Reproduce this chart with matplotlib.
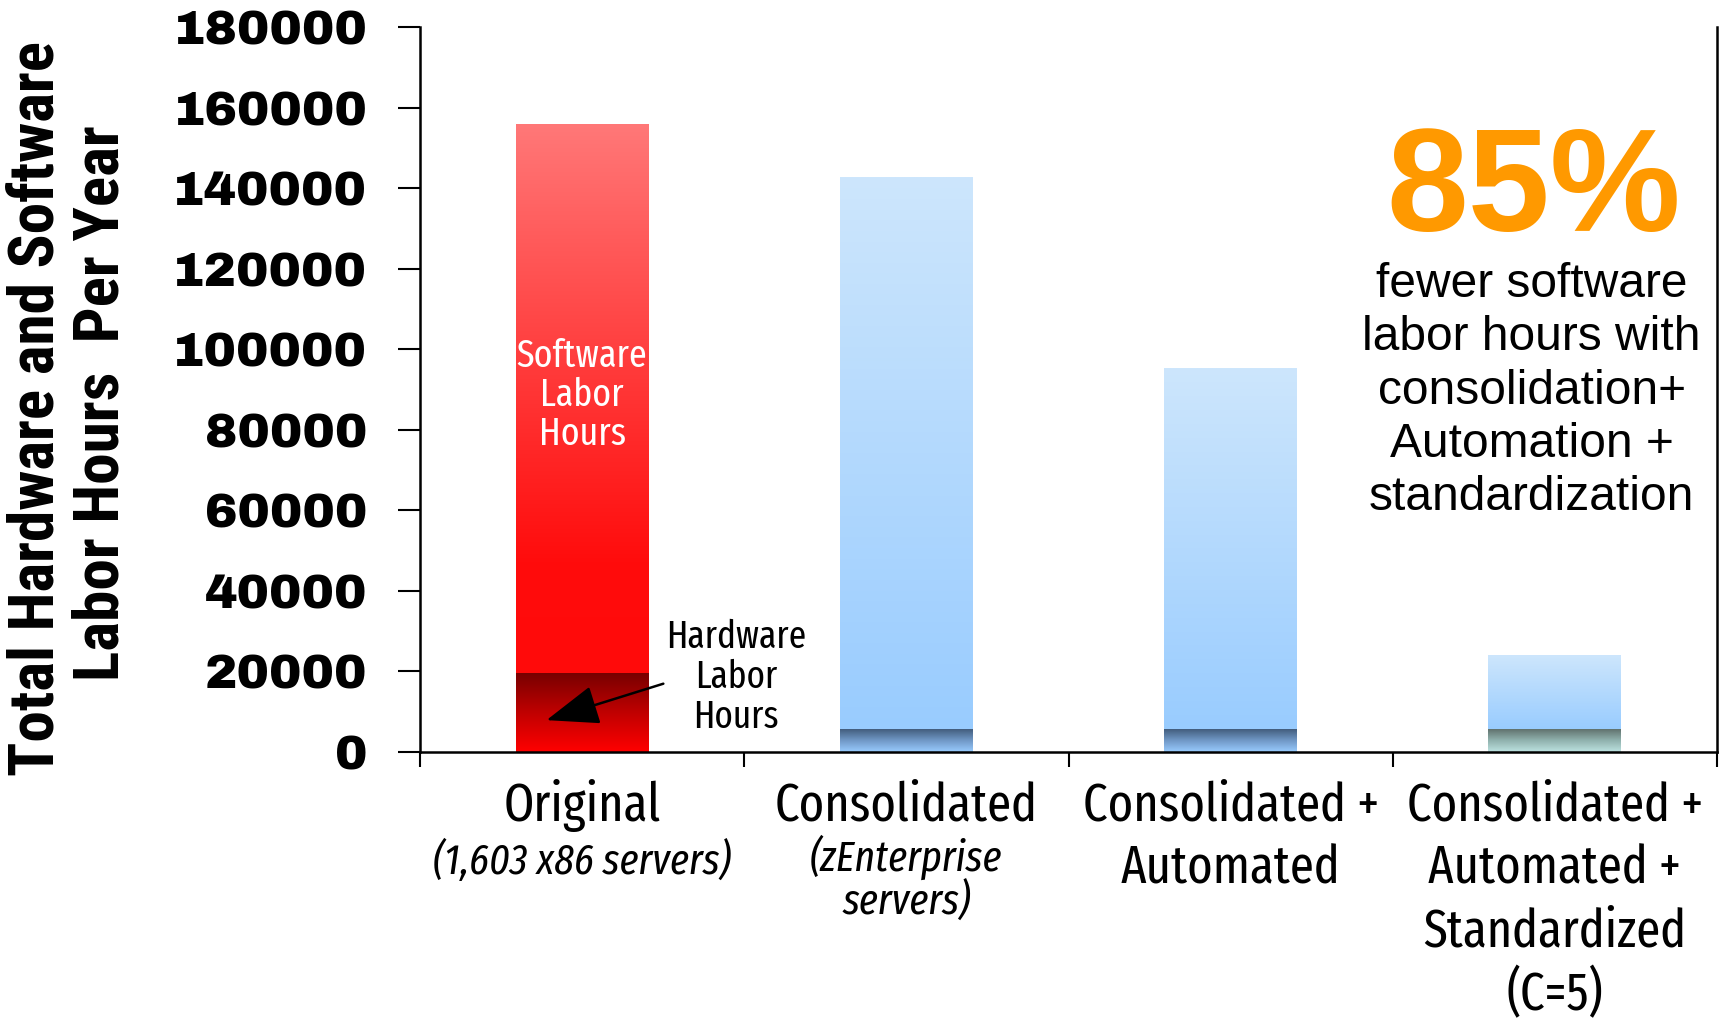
import numpy as np
import matplotlib.pyplot as plt
from matplotlib.colors import LinearSegmentedColormap

# heures de travail par an (logiciel / materiel)
categories = ["Original", "Consolidated", "Consolidated +\nAutomated",
              "Consolidated +\nAutomated +\nStandardized\n(C=5)"]
sous_titres = ["(1,603 x86 servers)", "(zEnterprise\nservers)", "", ""]
total_heures = [156000, 142800, 95300, 24000]
heures_materiel = [19600, 5800, 5800, 5800]
yticks = [0, 20000, 40000, 60000, 80000, 100000, 120000, 140000, 160000, 180000]

ETROIT = ['Fira Sans Extra Condensed', 'DejaVu Sans']

fig = plt.figure(figsize=(17.23, 10.21), dpi=100)
ax = fig.add_axes([0.2438, 0.2635, 0.7527, 0.7101])
H_AX = 725.0  # hauteur des axes en pixels


def degrade(couleurs, stops=None):
    if stops is None:
        stops = np.linspace(0, 1, len(couleurs))
    return LinearSegmentedColormap.from_list('g', list(zip(stops, couleurs)))


def remplir(barre, cmap):
    # degrade vertical (haut -> bas) coupe a la forme de la barre
    x0, y0 = barre.get_x(), barre.get_y()
    w, h = barre.get_width(), barre.get_height()
    grad = np.linspace(0, 1, 256).reshape(-1, 1)
    im = ax.imshow(grad, cmap=cmap, aspect='auto', origin='upper',
                   extent=[x0, x0 + w, y0, y0 + h], zorder=2)
    im.set_clip_path(barre)
    barre.set_facecolor('none')


x = np.arange(len(categories))
logiciel = np.array(total_heures) - np.array(heures_materiel)
b_hw = ax.bar(x, heures_materiel, width=0.41, zorder=1, linewidth=0)
b_sw = ax.bar(x, logiciel, bottom=heures_materiel, width=0.41, zorder=1, linewidth=0)

rouge_sw = degrade(['#ff7878', '#ff3a3a', '#ff0c0c', '#ff0a0a'], [0, 0.45, 0.8, 1])
rouge_hw = degrade(['#780000', '#c00000', '#ff0000'])
bleu_sw = degrade(['#cde6fc', '#99ccff'])
bleu_hw = degrade(['#3f5876', '#6f96c4', '#99ccff'], [0, 0.5, 1])
vert_hw = degrade(['#5c6c68', '#8fb0ac', '#bde3e1'], [0, 0.5, 1])

remplir(b_sw[0], rouge_sw)
remplir(b_hw[0], rouge_hw)
for i in range(1, 4):
    remplir(b_sw[i], bleu_sw)
    remplir(b_hw[i], bleu_hw if i < 3 else vert_hw)

ax.set_xlim(-0.5, 3.5)
ax.set_ylim(0, 180000)
ax.set_yticks(yticks)
ax.set_yticklabels([str(v) for v in yticks], fontsize=35,
                   family=['Archivo Black', 'DejaVu Sans'])
ax.tick_params(axis='y', direction='out', length=16, width=1.5, pad=22)
ax.set_xticks(np.arange(-0.5, 4, 1))
ax.set_xticklabels([])
ax.tick_params(axis='x', direction='out', length=11, width=1.5)
ax.spines['top'].set_visible(False)
for s in ['left', 'bottom', 'right']:
    ax.spines[s].set_linewidth(1.8)

fig.text(0.021, 0.600, "Total Hardware and Software", rotation=90,
         fontsize=45.5, fontweight='bold', family=['Roboto Condensed', 'DejaVu Sans'],
         ha='center', va='center')
fig.text(0.059, 0.605, "Labor Hours  Per Year", rotation=90,
         fontsize=45.5, fontweight='bold', family=['Roboto Condensed', 'DejaVu Sans'],
         ha='center', va='center')

# libelles des categories sous l'axe, une ligne a la fois
tr = ax.get_xaxis_transform()
for i, lab in enumerate(categories):
    for k, ligne in enumerate(lab.split("\n")):
        ax.text(i, -(54 + k * 63) / H_AX, ligne, transform=tr, ha='center',
                va='center', fontsize=38, family=ETROIT)
ax.text(0, -110 / H_AX, sous_titres[0], transform=tr, ha='center', va='center',
        fontsize=31, style='italic', family=ETROIT)
for k, ligne in enumerate(sous_titres[1].split("\n")):
    ax.text(1, -(105 + k * 46) / H_AX, ligne, transform=tr, ha='center',
            va='center', fontsize=31, style='italic', family=ETROIT)

ax.text(0, 88630, "Software\nLabor\nHours", color='white', ha='center',
        va='center', fontsize=28, family=ETROIT, linespacing=1.06, zorder=5)
ax.annotate("Hardware\nLabor\nHours", xy=(-0.11, 7900), xytext=(0.475, 18620),
            ha='center', va='center', fontsize=27.5, family=ETROIT,
            linespacing=1.08, zorder=5,
            arrowprops=dict(arrowstyle='-|>,head_length=1.2,head_width=0.45',
                            color='black', lw=1.8, shrinkA=0, shrinkB=0,
                            relpos=(0.0, 0.45)))

fig.text(0.890, 0.811, "85%", color='#ff9900', fontsize=106, fontweight='bold',
         family='Liberation Sans', ha='center', va='center')
fig.text(0.889, 0.617, "fewer software\nlabor hours with\nconsolidation+\n"
         "Automation +\nstandardization", fontsize=34.5, family='Liberation Sans',
         ha='center', va='center', linespacing=1.24)

fig.savefig('out.png', dpi=100)
